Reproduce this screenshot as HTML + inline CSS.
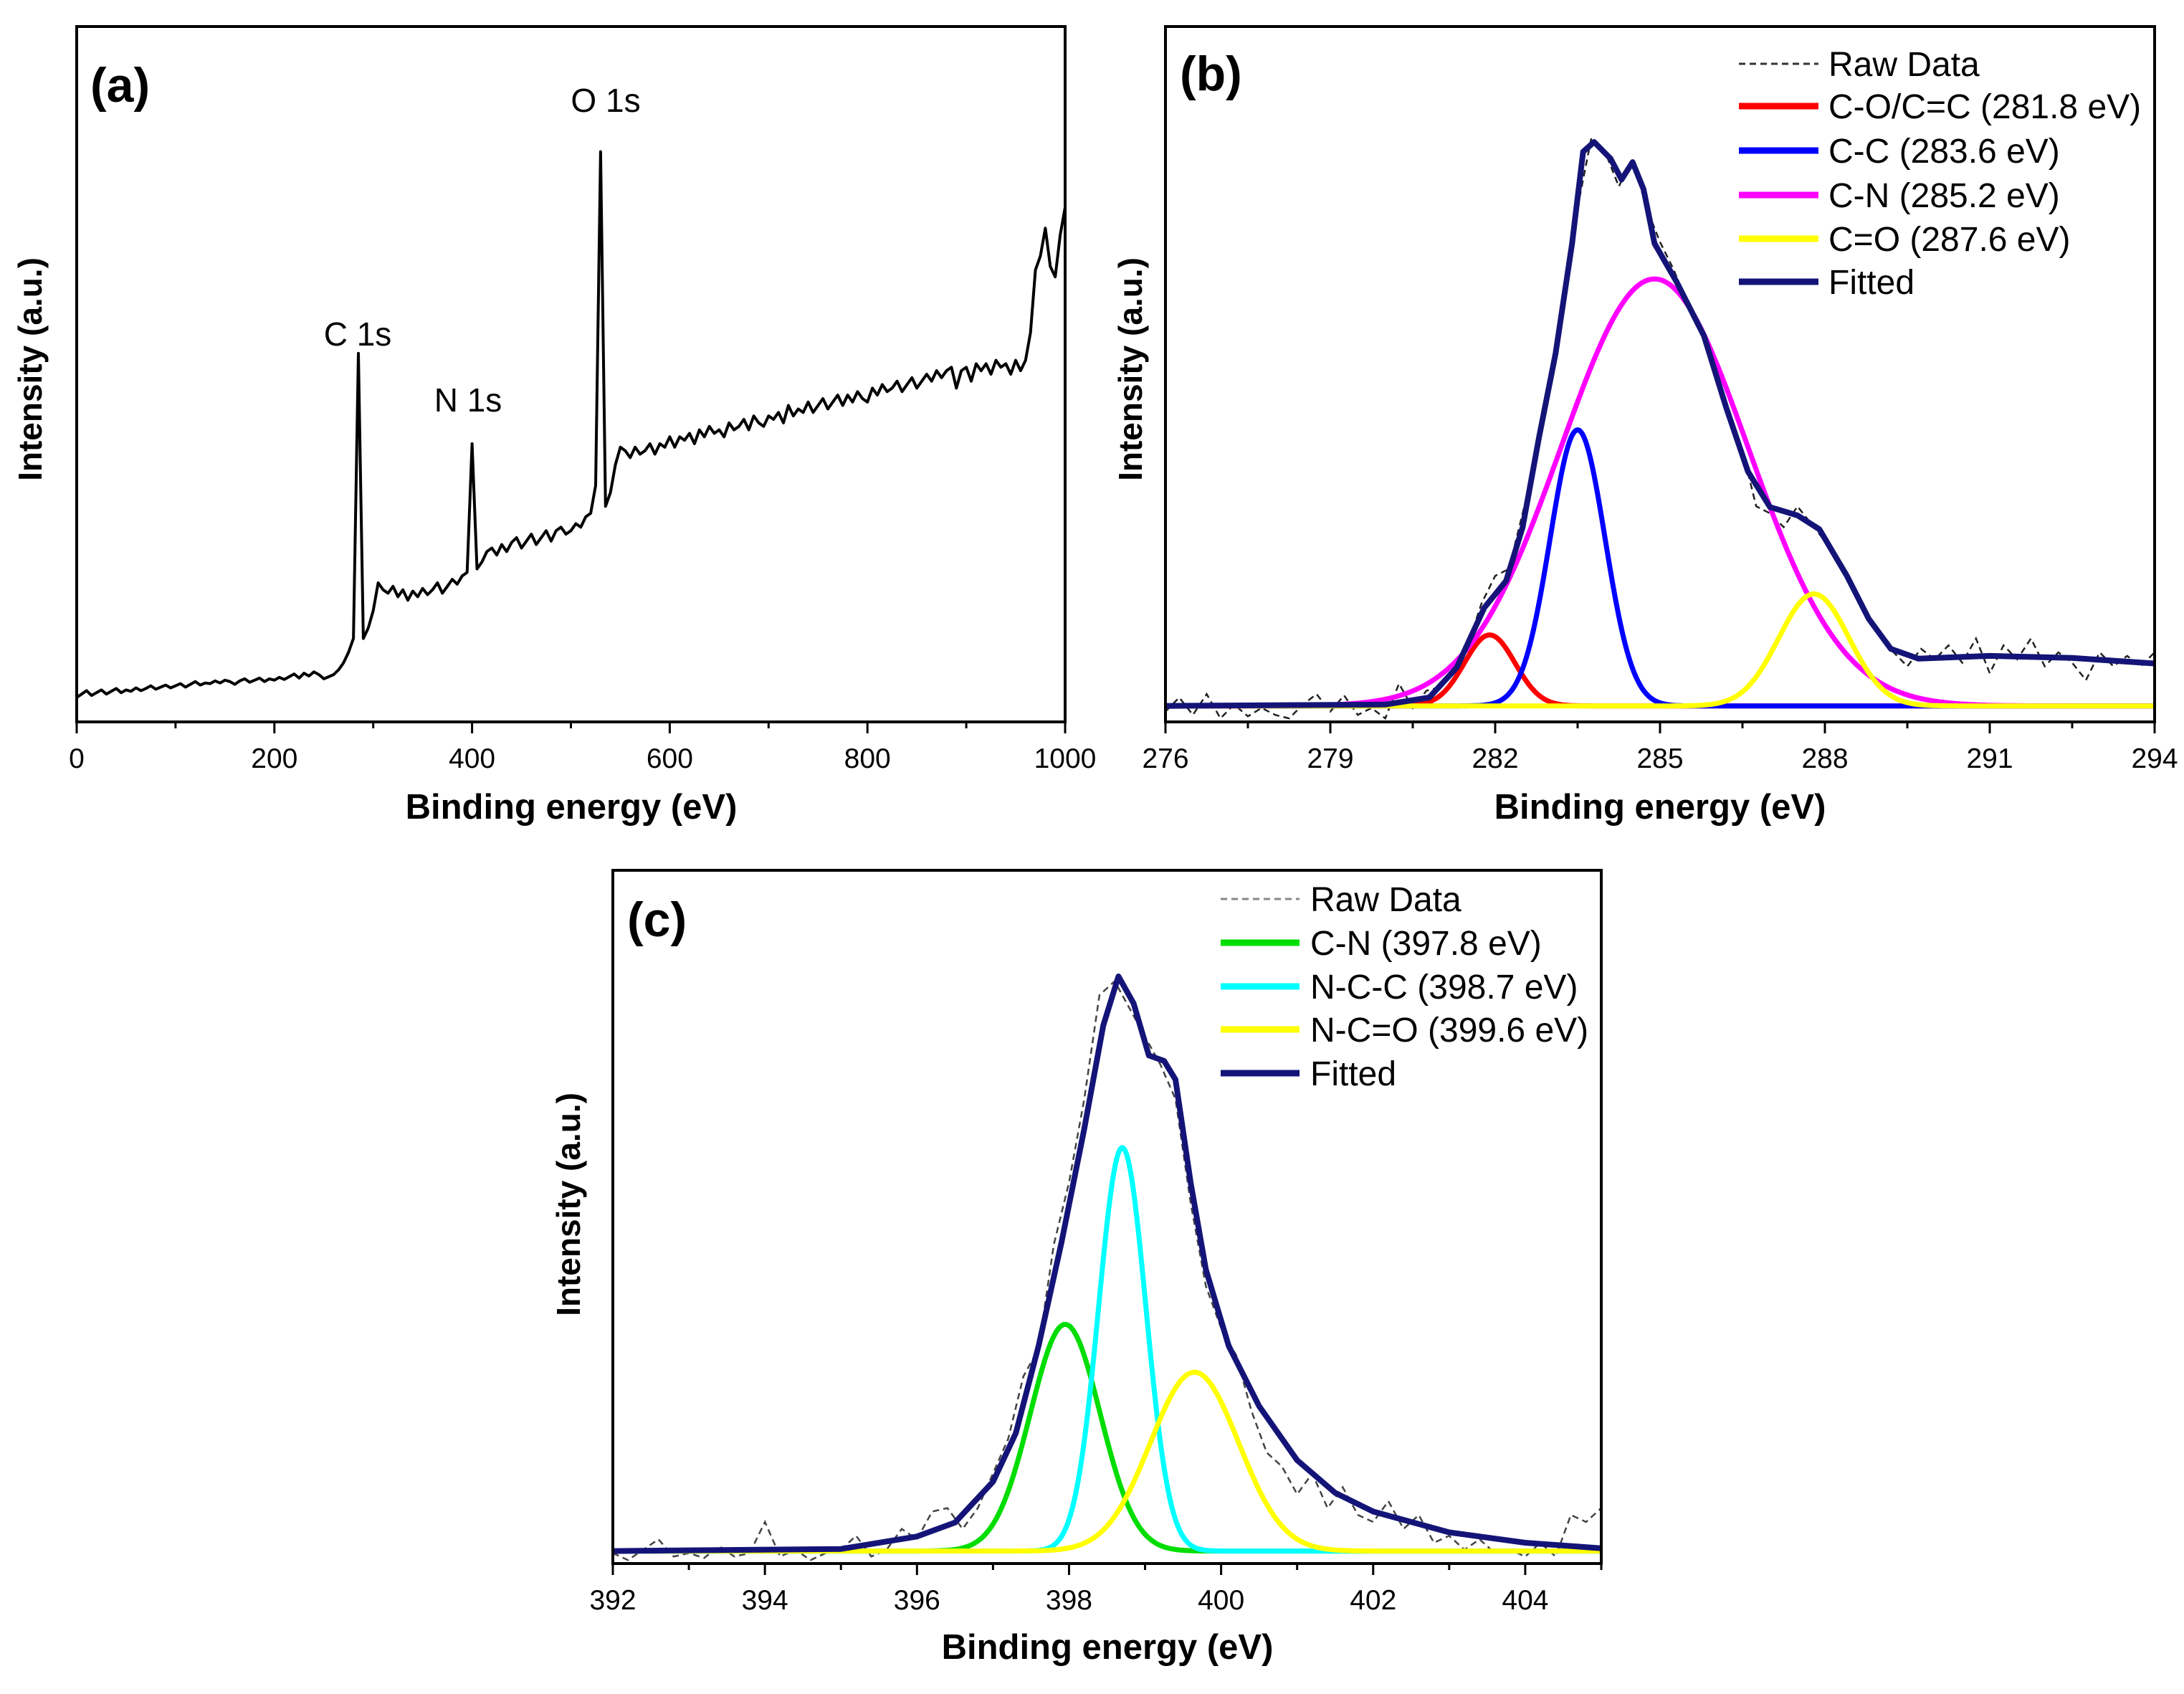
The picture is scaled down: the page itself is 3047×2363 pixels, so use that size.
<!DOCTYPE html>
<html><head><meta charset="utf-8"><style>
html,body{margin:0;padding:0;background:#fff;}
svg{display:block;font-family:"Liberation Sans",Arial,sans-serif;}
</style></head><body>
<svg id="fig" width="3047" height="2363" viewBox="0 0 3047 2363" xmlns="http://www.w3.org/2000/svg">
<rect width="3047" height="2363" fill="#fff"/>
</svg>
<script>
// ---------- Panel (a) survey data: intensity (% of axis height) every 5 eV from 0 to 1000 ----------
const surveyStart = 0;
const surveyStep = 5;
const surveyValues = [
3.5,4,4.5,3.8,4.2,4.6,4,4.4,4.8,4.2,4.6,4.4,4.9,4.5,4.8,5.2,4.7,5,5.3,4.9,
5.2,5.5,5,5.4,5.8,5.3,5.6,5.5,5.9,5.6,6,5.8,5.4,5.9,6.2,5.7,6,6.3,5.8,6.2,
6,6.4,6.1,6.5,6.9,6.3,7,6.6,7.2,6.8,
6.2,6.5,6.8,7.5,8.5,10,12,53,12,13.5,16,20,19,18.5,19.5,18,19,17.5,18.8,18,
19.2,18.3,19,20,18.5,19.5,20.5,19.8,21,21.5,40,22,23,24.5,25,24,25.5,24.5,25.8,26.5,
25,26,27,25.5,26.5,27.5,26,27.5,28,27,27.5,28.5,28,29.5,30,34,82,31,33,37,
39.5,39,38,39.5,38.5,39,40,38.5,40,39.5,41,39.5,41,40.5,41.5,40,42,41,42.5,41.5,
42,41,43,42,42.5,43.5,42,44,43,42.5,44,43.5,44.5,43,45.5,44,45,44.5,46,44.5,
45.5,46.5,45,46,47,45.5,47,46,47.5,46.5,46,48,47,48.5,47.5,48,49,47.5,48.5,49.5,
48,49,50,49,50.5,49.5,50.5,51,48,50.5,51,49,51.5,50.5,51.5,50,52,51,51.5,50,
52,50.5,52,56,65,67,71,65.5,64,70,74
];
const surveyPeakNames = ["C 1s","N 1s","O 1s"];
const surveyPeakEnergies = [285,400,530];
const surveyTicks = [0,200,400,600,800,1000];

// ---------- Panel (b) C 1s ----------
const bRawStart = 276;
const bRawStep = 0.25;
const bRawValues = [
1.5,3.5,1,4,0.5,2.5,0.8,2,1,0.5,2.5,4,1.5,3.8,1,2,0.5,5.5,2,4.5,
5,7,11,17,21,22,30,38,50,60,74,84,82,77,81,74,69,65,60,56,
50,45,39,31,30,28,31,28.5,26,23,19,15,13,10,8,10.5,9,11,8.5,12,
7,11,9,12,8,10,8.5,6,10,8,9.5,8,10
];
const bFitX = [276,280,280.8,281.3,281.8,282.2,282.5,282.8,283.1,283.4,283.6,283.8,284.1,284.3,284.5,284.7,284.9,285.3,285.8,286.2,286.6,287,287.5,287.9,288.4,288.8,289.2,289.7,291,292.5,294];
const bFitY = [2.3,2.5,3.5,7.8,16.4,20.3,28,41,53,68.8,82,83.4,81,78,80.5,76.6,68.8,63.3,55.5,45.3,36,30.9,29.7,27.7,21,14.8,10.5,9.1,9.5,9.2,8.4];
const bCompNames = ["C-O/C=C (281.8 eV)","C-C (283.6 eV)","C-N (285.2 eV)","C=O (287.6 eV)"];
const bCompCenters = [281.9,283.5,284.9,287.8];
const bCompHeights = [10.2,39.7,61.4,16.1];
const bCompSigmas = [0.46,0.5,1.7,0.64];
const bCompColors = ["#ff0000","#0000ff","#ff00ff","#ffff00"];
const bBaseline = 2.3;
const bTicks = [276,279,282,285,288,291,294];

// ---------- Panel (c) N 1s ----------
const cRawStart = 392;
const cRawStep = 0.2;
const cRawValues = [
1.5,0.5,2,3.5,1,1.5,0.8,2.5,1,1.5,6,1,2,0.5,1.5,2,4,1,2,5,
3.5,7.5,8,5,8,13,18,27,31,46,55,67,82,84,80,76,72,67,52,40,
34,30,22,16,14,10,13,8,11,7,6,9,5,7,3,4,2,3.5,1.5,2,
1,3,1,7,6,8
];
const cFitX = [392,395,396,396.5,397,397.3,397.6,397.9,398.2,398.45,398.65,398.85,399.05,399.25,399.4,399.6,399.8,400.1,400.5,401,401.5,402,403,404,405];
const cFitY = [1.8,2.1,3.9,5.9,11.8,18.8,31.4,46.3,62.7,77.6,84.7,80.8,73.3,72.5,69.8,54.9,42.4,31.4,22.7,14.9,10.2,7.5,4.5,3,2.2];
const cCompNames = ["C-N (397.8 eV)","N-C-C (398.7 eV)","N-C=O (399.6 eV)"];
const cCompCenters = [397.95,398.7,399.65];
const cCompHeights = [32.7,58.2,25.8];
const cCompSigmas = [0.46,0.31,0.58];
const cCompColors = ["#00dd00","#00ffff","#ffff00"];
const cBaseline = 1.8;
const cTicks = [392,394,396,398,400,402,404];

// ---------- drawing ----------
const NS = "http://www.w3.org/2000/svg";
const svg = document.getElementById("fig");
function mk(tag, attrs, parent){
  const e = document.createElementNS(NS, tag);
  for (const k in attrs) e.setAttribute(k, attrs[k]);
  (parent||svg).appendChild(e);
  return e;
}
function txt(parent, x, y, s, size, weight, anchor, rot){
  const t = mk("text", {x:x, y:y, "font-size":size, "font-weight":weight||"normal", "text-anchor":anchor||"middle", fill:"#000"}, parent);
  if (rot) t.setAttribute("transform", "rotate(-90 "+x+" "+y+")");
  t.textContent = s;
  return t;
}
function makeAxes(p){
  const g = mk("g", {});
  
  
  const xs = v => p.L + (v - p.xmin) / (p.xmax - p.xmin) * (p.R - p.L);
  const ys = v => p.B - v / 100 * (p.B - p.T);
  p.xs = xs; p.ys = ys; p.g = g;
  return p;
}
function finishAxes(p, ticks, minorStep, label){
  const g = p.g;
  const frame = mk("rect", {x:p.L, y:p.T, width:p.R-p.L, height:p.B-p.T, fill:"none", stroke:"#000", "stroke-width":4}, g);
  
  
  const tg = mk("g", {}, g);
  
  
  for (let v = p.xmin; v <= p.xmax + 1e-9; v += minorStep){
    const x = p.xs(v);
    const major = ticks.some(t => Math.abs(t - v) < 1e-6);
    mk("line", {x1:x, x2:x, y1:p.B, y2:p.B + (major?16:9), stroke:"#000", "stroke-width":3}, tg);
  }
  ticks.forEach(t => {
    const lab = txt(tg, p.xs(t), p.B + 64, String(t), 39);
    
    
  });
  const xt = txt(g, p.xtx, p.xty, "Binding energy (eV)", 49, "bold");
  
  
  const yt = txt(g, p.ytx, p.yty, "Intensity (a.u.)", 46, "bold", "middle", true);
  
  
  const pl = txt(g, p.plx, p.ply, label, 68, "bold", "start");
  
  
}
function pathFrom(xArr, yArr, p){
  let d = "";
  for (let i = 0; i < xArr.length; i++) d += (i ? "L" : "M") + p.xs(xArr[i]).toFixed(1) + " " + p.ys(yArr[i]).toFixed(1);
  return d;
}
function gauss(x, c, h, s, base){ return base + h * Math.exp(-0.5 * ((x - c) / s) ** 2); }
function compPath(p, c, h, s, base){
  const xa = [], ya = [];
  for (let x = p.xmin; x <= p.xmax + 1e-9; x += (p.xmax - p.xmin) / 600){ xa.push(x); ya.push(gauss(x, c, h, s, base)); }
  return pathFrom(xa, ya, p);
}
function legend(parent, x1, x2, tx, rows, entries){
  const lg = mk("g", {}, parent);
  
  
  entries.forEach((e, i) => {
    const y = rows[i];
    const ln = mk("line", {x1:x1, x2:x2, y1:y, y2:y, stroke:e.color, "stroke-width":e.dash?3:9}, lg);
    if (e.dash) ln.setAttribute("stroke-dasharray", "9 6");
    
    
    const t = txt(lg, tx, y + 17, e.name, 48, "normal", "start");
    
    
  });
}

// Panel A
const A = makeAxes({name:"panel-a-survey", L:107, R:1486, T:37, B:1007, xmin:0, xmax:1000, xtx:797, xty:1142, ytx:58, yty:515, plx:126, ply:142});
{
  const xa = surveyValues.map((v, i) => surveyStart + i * surveyStep);
  const path = mk("path", {d:pathFrom(xa, surveyValues, A), fill:"none", stroke:"#000", "stroke-width":4, "stroke-linejoin":"round"}, A.g);
  
  
  const labelX = [499, 653, 845];
  const labelY = [482, 574, 156];
  surveyPeakNames.forEach((n, i) => {
    const t = txt(A.g, labelX[i], labelY[i], n, 46);
    
    
  });
  finishAxes(A, surveyTicks, 100, "(a)");
}

// Panel B
const Bp = makeAxes({name:"panel-b-c1s", L:1626, R:3006, T:37, B:1007, xmin:276, xmax:294, xtx:2316, xty:1142, ytx:1593, yty:515, plx:1646, ply:126});
{
  const rx = bRawValues.map((v, i) => bRawStart + i * bRawStep);
  const raw = mk("path", {d:pathFrom(rx, bRawValues, Bp), fill:"none", stroke:"#222", "stroke-width":2.5, "stroke-dasharray":"9 6"}, Bp.g);
  
  
  bCompCenters.forEach((c, i) => {
    const pth = mk("path", {d:compPath(Bp, c, bCompHeights[i], bCompSigmas[i], bBaseline), fill:"none", stroke:bCompColors[i], "stroke-width":7}, Bp.g);
    
    
  });
  const fit = mk("path", {d:pathFrom(bFitX, bFitY, Bp), fill:"none", stroke:"#141478", "stroke-width":8, "stroke-linejoin":"round"}, Bp.g);
  
  
  const ents = [{name:"Raw Data", color:"#333", dash:true}];
  bCompNames.forEach((n, i) => ents.push({name:n, color:bCompColors[i]}));
  ents.push({name:"Fitted", color:"#141478"});
  legend(Bp.g, 2426, 2537, 2551, [89,148,210,272,333,393], ents);
  finishAxes(Bp, bTicks, 1.5, "(b)");
}

// Panel C
const Cp = makeAxes({name:"panel-c-n1s", L:855, R:2234, T:1214, B:2181, xmin:392, xmax:405, xtx:1545, xty:2314, ytx:809, yty:1680, plx:875, ply:1306});
{
  const rx = cRawValues.map((v, i) => cRawStart + i * cRawStep);
  const raw = mk("path", {d:pathFrom(rx, cRawValues, Cp), fill:"none", stroke:"#444", "stroke-width":2.5, "stroke-dasharray":"9 6"}, Cp.g);
  
  
  cCompCenters.forEach((c, i) => {
    const pth = mk("path", {d:compPath(Cp, c, cCompHeights[i], cCompSigmas[i], cBaseline), fill:"none", stroke:cCompColors[i], "stroke-width":7}, Cp.g);
    
    
  });
  const fit = mk("path", {d:pathFrom(cFitX, cFitY, Cp), fill:"none", stroke:"#141478", "stroke-width":8, "stroke-linejoin":"round"}, Cp.g);
  
  
  const ents = [{name:"Raw Data", color:"#888", dash:true}];
  cCompNames.forEach((n, i) => ents.push({name:n, color:cCompColors[i]}));
  ents.push({name:"Fitted", color:"#141478"});
  legend(Cp.g, 1703, 1813, 1828, [1254,1315,1376,1436,1497], ents);
  finishAxes(Cp, cTicks, 1, "(c)");
}
</script>
</body></html>
